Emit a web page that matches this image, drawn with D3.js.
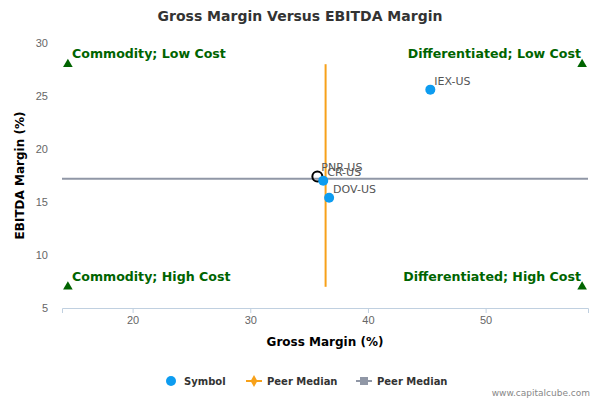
<!DOCTYPE html>
<html><head><meta charset="utf-8">
<script src="https://cdn.jsdelivr.net/npm/d3@7"></script>
<style>body{margin:0;font-family:"DejaVu Sans",sans-serif;}</style>
</head><body><div id="chart"></div>
<script>
const symbols = ["IEX-US", "CR-US", "DOV-US"];
const grossMargin = [45.3, 36.2, 36.7];
const ebitdaMargin = [25.6, 17.0, 15.4];
const peerName = "PNR-US";
const peerPoint = [35.7, 17.4];
const medianX = 36.4, medianY = 17.2;
const xTicks = [20, 30, 40, 50];
const yTicks = [5, 10, 15, 20, 25, 30];
const quadrants = ["Commodity; Low Cost", "Differentiated; Low Cost", "Commodity; High Cost", "Differentiated; High Cost"];

const margin = {top: 43, right: 12, bottom: 92, left: 62},
    width = 600 - margin.left - margin.right,
    height = 400 - margin.top - margin.bottom;

const root = d3.select("#chart").append("svg").attr("width", 600).attr("height", 400);
const svg = root.append("g").attr("transform", `translate(${margin.left},${margin.top})`);

const x = d3.scaleLinear().domain([14, 58.7]).range([0, width]);
const y = d3.scaleLinear().domain([5, 30]).range([height, 0]);

root.append("text").attr("x", 300).attr("y", 21).attr("text-anchor", "middle")
  .style("font-size", "14px").style("font-weight", "bold").attr("fill", "#333")
  .text("Gross Margin Versus EBITDA Margin");

// axes
const xa = svg.append("g").attr("transform", `translate(0,${height})`)
  .call(d3.axisBottom(x).tickValues(xTicks).tickSize(5));
xa.select(".domain").attr("stroke", "#c0d0e0");
xa.selectAll(".tick line").attr("stroke", "#c0d0e0");
xa.selectAll("text").attr("fill", "#666").style("font-size", "11px");
const ya = svg.append("g").call(d3.axisLeft(y).tickValues(yTicks).tickSize(0).tickPadding(14));
ya.select(".domain").remove();
ya.selectAll("text").attr("fill", "#666").style("font-size", "11px");

svg.append("text").attr("x", width / 2).attr("y", height + 38).attr("text-anchor", "middle")
  .style("font-size", "12px").style("font-weight", "bold").attr("fill", "#000").text("Gross Margin (%)");
svg.append("text").attr("transform", "rotate(-90)").attr("x", -height / 2).attr("y", -38)
  .attr("text-anchor", "middle").style("font-size", "12px").style("font-weight", "bold").text("EBITDA Margin (%)");

// medians
svg.append("line").attr("x1", x(medianX)).attr("x2", x(medianX)).attr("y1", y(28)).attr("y2", y(7))
  .attr("stroke", "#f7a11a").attr("stroke-width", 2);
svg.append("line").attr("x1", 0).attr("x2", width).attr("y1", y(medianY)).attr("y2", y(medianY))
  .attr("stroke", "#9097a6").attr("stroke-width", 2);

// quadrant triangles and labels
const tri = d3.symbol().type(d3.symbolTriangle).size(40);
[[14.5, 28], [58.2, 28], [14.5, 7], [58.2, 7]].forEach(([a, b]) => {
  svg.append("path").attr("d", tri).attr("fill", "#006400").attr("transform", `translate(${x(a)},${y(b)})`);
});
const ql = [[10, y(28) - 6, "start"], [width - 7, y(28) - 6, "end"], [10, y(7) - 6, "start"], [width - 7, y(7) - 6, "end"]];
quadrants.forEach((t, i) => {
  svg.append("text").attr("x", ql[i][0]).attr("y", ql[i][1]).attr("text-anchor", ql[i][2])
    .style("font-size", "12.6px").style("font-weight", "bold").attr("fill", "#006400").text(t);
});

// points
svg.append("circle").attr("cx", x(peerPoint[0])).attr("cy", y(peerPoint[1])).attr("r", 5)
  .attr("fill", "none").attr("stroke", "#000").attr("stroke-width", 2);
svg.append("text").attr("x", x(peerPoint[0]) + 4).attr("y", y(peerPoint[1]) - 6)
  .style("font-size", "11px").attr("fill", "#555").text(peerName);
symbols.forEach((s, i) => {
  svg.append("circle").attr("cx", x(grossMargin[i])).attr("cy", y(ebitdaMargin[i])).attr("r", 5).attr("fill", "#0d9cf0");
  svg.append("text").attr("x", x(grossMargin[i]) + 4).attr("y", y(ebitdaMargin[i]) - 5)
    .style("font-size", "11px").attr("fill", "#555").text(s);
});

// legend
const lg = root.append("g").attr("transform", "translate(0,381)");
lg.append("circle").attr("cx", 171).attr("cy", 0).attr("r", 5).attr("fill", "#0d9cf0");
lg.append("line").attr("x1", 246).attr("x2", 262).attr("stroke", "#f7a11a").attr("stroke-width", 2);
lg.append("path").attr("d", d3.symbol().type(d3.symbolDiamond).size(40)).attr("fill", "#f7a11a").attr("transform", "translate(254,0)");
lg.append("line").attr("x1", 356).attr("x2", 372).attr("stroke", "#9097a6").attr("stroke-width", 2);
lg.append("rect").attr("x", 360).attr("y", -4).attr("width", 8).attr("height", 8).attr("fill", "#9097a6");
[["Symbol", 184], ["Peer Median", 267], ["Peer Median", 377]].forEach(([t, px]) => {
  lg.append("text").attr("x", px).attr("y", 4).style("font-size", "10px").style("font-weight", "bold").attr("fill", "#333").text(t);
});
root.append("text").attr("x", 590).attr("y", 396).attr("text-anchor", "end")
  .style("font-size", "9px").attr("fill", "#888").text("www.capitalcube.com");
</script></body></html>
